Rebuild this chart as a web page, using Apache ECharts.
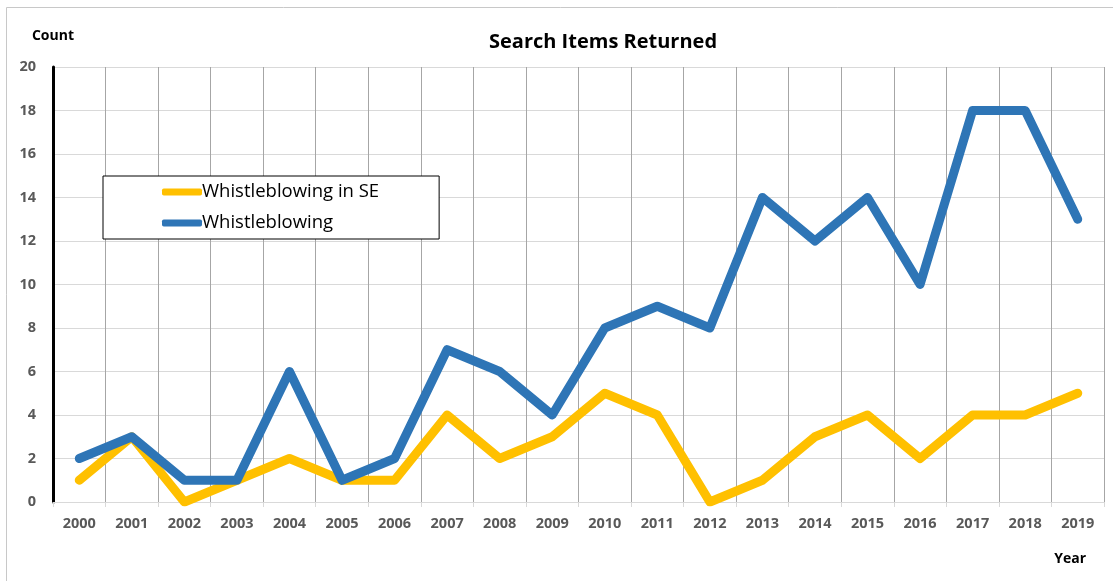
<!DOCTYPE html>
<html><head><meta charset="utf-8">
<script src="https://cdn.jsdelivr.net/npm/echarts@6/dist/echarts.min.js"></script>
<style>html,body{margin:0;padding:0;background:#fff}#c{width:1113px;height:581px}</style>
</head><body><div id="c"></div>
<script>
const years = ['2000','2001','2002','2003','2004','2005','2006','2007','2008','2009','2010','2011','2012','2013','2014','2015','2016','2017','2018','2019'];
const whistleSE = [1,3,0,1,2,1,1,4,2,3,5,4,0,1,3,4,2,4,4,5];
const whistle = [2,3,1,1,6,1,2,7,6,4,8,9,8,14,12,14,10,18,18,13];
const seriesNames = ['Whistleblowing in SE','Whistleblowing'];
const font = '"Open Sans", "Liberation Sans", sans-serif';
const chart = echarts.init(document.getElementById('c'), null, {renderer:'canvas'});
chart.setOption({
  animation:false,
  backgroundColor:'#fff',
  graphic:[{type:'rect',shape:{x:6.5,y:7.5,width:1120,height:600},style:{fill:'none',stroke:'#c8c8c8',lineWidth:1},silent:true,z:-10}],
  title:{text:'Search Items Returned',left:484,top:27,textStyle:{fontFamily:font,fontWeight:'bold',fontSize:20,color:'#000'}},
  legend:{
    orient:'vertical',left:103,top:176,
    data:seriesNames,
    backgroundColor:'#fff',borderColor:'#000',borderWidth:1,
    padding:[5,60,5,59],itemGap:9,itemWidth:40,itemHeight:7,
    icon:'roundRect',
    textStyle:{fontFamily:font,fontSize:18.5,lineHeight:22,color:'#000',padding:[0,0,0,-5]}
  },
  grid:{left:53,right:9,top:67,bottom:79},
  xAxis:{
    type:'category',data:years,boundaryGap:true,
    name:'Year',nameLocation:'end',nameGap:0,
    nameTextStyle:{fontFamily:font,fontWeight:'bold',fontSize:14,color:'#000',align:'right',verticalAlign:'top',padding:[50,18,0,0]},
    axisLine:{show:true,lineStyle:{color:'#d9d9d9',width:1}},
    axisTick:{show:true,length:5,lineStyle:{color:'#d9d9d9'}},
    axisLabel:{fontFamily:font,fontWeight:'bold',fontSize:14.5,color:'#595959',margin:14},
    splitLine:{show:true,lineStyle:{color:'#a6a6a6',width:1}}
  },
  yAxis:{
    type:'value',min:0,max:20,interval:2,
    name:'Count',nameLocation:'end',nameGap:24,
    nameTextStyle:{fontFamily:font,fontWeight:'bold',fontSize:14,color:'#000',align:'right',padding:[0,-21,0,0]},
    axisLine:{show:true,lineStyle:{color:'#000',width:3}},
    axisTick:{show:false},
    axisLabel:{fontFamily:font,fontWeight:'bold',fontSize:14.5,color:'#595959',margin:17},
    splitLine:{show:true,lineStyle:{color:'#d9d9d9',width:1}}
  },
  series:[
    {name:seriesNames[0],type:'line',data:whistleSE,symbol:'none',color:'#FFC000',
     lineStyle:{width:9,color:'#FFC000',cap:'round',join:'round'},z:2},
    {name:seriesNames[1],type:'line',data:whistle,symbol:'none',color:'#2E75B6',
     lineStyle:{width:9,color:'#2E75B6',cap:'round',join:'round'},z:3}
  ]
});
</script></body></html>
